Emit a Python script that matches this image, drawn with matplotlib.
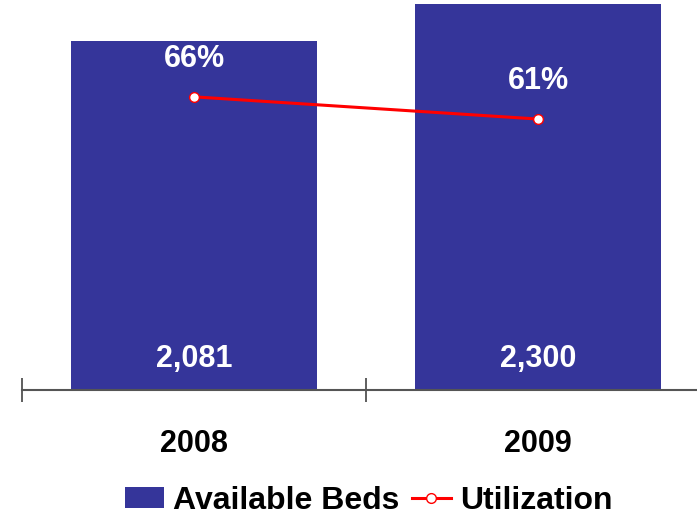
import matplotlib.pyplot as plt
from matplotlib.lines import Line2D
from matplotlib.patches import Patch

anos = ['2008', '2009']
leitos = [2081, 2300]
utilizacao = [66, 61]
rotulos_leitos = ['2,081', '2,300']
rotulos_util = ['66%', '61%']

cor_barra = '#35359a'
cor_linha = '#ff0000'

plt.rcParams['font.family'] = ['Liberation Sans', 'DejaVu Sans']
plt.rcParams['font.weight'] = 'bold'

fig = plt.figure(figsize=(6.97, 5.16), dpi=100)
ax = fig.add_axes([22 / 697, 126 / 516, 675 / 697, 390 / 516])
x = list(range(len(anos)))

ax.bar(x, leitos, width=0.715, color=cor_barra, zorder=2)

for xi, r in zip(x, rotulos_leitos):
    ax.annotate(r, (xi, 0), xytext=(0, 31), textcoords='offset pixels',
                ha='center', va='center', color='white', fontsize=22,
                fontweight='bold', zorder=5)

# eixo secundário para a taxa de utilização
ax2 = ax.twinx()
ax2.plot(x, utilizacao, color=cor_linha, lw=2.2, marker='o', markersize=7,
         markerfacecolor='white', markeredgecolor=cor_linha, markeredgewidth=1)
for xi, v, r in zip(x, utilizacao, rotulos_util):
    ax2.annotate(r, (xi, v), xytext=(0, 38), textcoords='offset pixels',
                 ha='center', va='center', color='white', fontsize=22,
                 fontweight='bold')

for a in (ax, ax2):
    for s in ['top', 'left', 'right']:
        a.spines[s].set_visible(False)
    a.set_yticks([])
ax2.spines['bottom'].set_visible(False)

ax.spines['bottom'].set_color('#555555')
ax.spines['bottom'].set_linewidth(1.5)
ax.set_xticks([-0.5, 0.5, 1.5])
ax.set_xticklabels([])
ax.tick_params(axis='x', which='major', direction='inout', length=17,
               width=1.1, color='#333333')
ax.set_xticks(x, minor=True)
ax.set_xticklabels(anos, minor=True, fontsize=22, fontweight='bold')
ax.tick_params(axis='x', which='minor', length=0, pad=28)

# limites depois dos ticks, senão set_xticks alarga o eixo
ax.set_xlim(-0.5, -0.5 + 675 / 344)
ax.set_ylim(0, 2325)
ax2.set_ylim(0, 87.8)

handles = [Patch(facecolor=cor_barra, edgecolor='none'),
           Line2D([], [], color=cor_linha, lw=2.2, marker='o', markersize=7,
                  markerfacecolor='white', markeredgecolor=cor_linha)]
fig.legend(handles, ['Available Beds', 'Utilization'], loc='center',
           bbox_to_anchor=(369 / 697, 1 - 501 / 516), ncol=2, frameon=False,
           fontsize=23, handlelength=1.2, handleheight=0.62,
           handletextpad=0.3, columnspacing=0.4, borderpad=0)

fig.savefig('out.png', dpi=100)
